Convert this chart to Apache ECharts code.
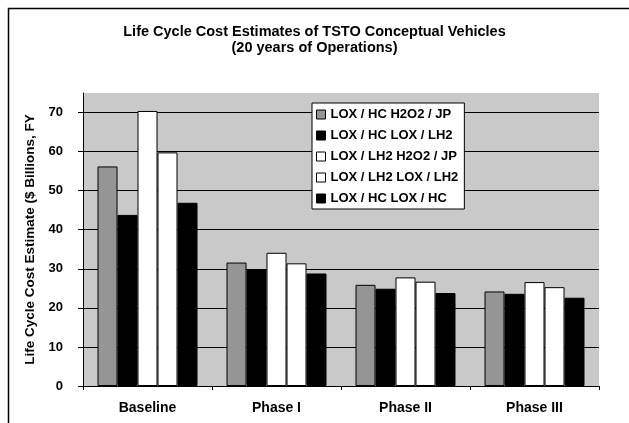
<!DOCTYPE html>
<html>
<head>
<meta charset="utf-8">
<script src="https://cdn.jsdelivr.net/npm/echarts@6/dist/echarts.min.js"></script>
<style>
html,body{margin:0;padding:0;background:#fff;}
#chart{width:629px;height:423px;}
</style>
</head>
<body>
<div id="chart"></div>
<script>
const categories = ['Baseline', 'Phase I', 'Phase II', 'Phase III'];
const seriesNames = ['LOX / HC H2O2 / JP', 'LOX / HC LOX / LH2', 'LOX / LH2 H2O2 / JP', 'LOX / LH2 LOX / LH2', 'LOX / HC LOX / HC'];
const s1 = [56.2, 31.6, 25.9, 24.2];
const s2 = [43.8, 29.7, 24.9, 23.6];
const s3 = [70.4, 34.1, 27.8, 26.6];
const s4 = [59.8, 31.4, 26.7, 25.3];
const s5 = [46.9, 28.8, 23.8, 22.6];
const yTicks = [0, 10, 20, 30, 40, 50, 60, 70];

const seriesData = [s1, s2, s3, s4, s5];
const fills = ['#959595', '#000000', '#ffffff', '#ffffff', '#000000'];
const font = '"Liberation Sans", Arial, sans-serif';

const chart = echarts.init(document.getElementById('chart'), null, {renderer: 'canvas'});
chart.setOption({
  animation: false,
  backgroundColor: '#ffffff',
  title: {
    text: 'Life Cycle Cost Estimates of TSTO Conceptual Vehicles\n(20 years of Operations)',
    left: 'center',
    top: 19,
    textStyle: {fontFamily: font, fontWeight: 'bold', fontSize: 14.5, color: '#000', lineHeight: 16}
  },
  graphic: [{
    type: 'rect', left: 6, top: 6, z: -1,
    shape: {width: 700, height: 500},
    style: {fill: 'none', stroke: '#000', lineWidth: 1.5}
  }],
  legend: {
    orient: 'vertical',
    left: 312, top: 103,
    width: 159,
    padding: [5, 6, 4, 4],
    itemGap: 8,
    itemWidth: 9, itemHeight: 9,
    backgroundColor: '#ffffff',
    borderColor: '#000', borderWidth: 1,
    textStyle: {fontFamily: font, fontWeight: 'bold', fontSize: 13, color: '#000'},
    data: seriesNames.map((n, i) => ({name: n, icon: 'rect', itemStyle: {color: fills[i], borderColor: '#000', borderWidth: 1}}))
  },
  grid: {left: 83, right: 30, top: 93, bottom: 37, show: true, backgroundColor: '#c9c9c9', borderWidth: 0},
  xAxis: {
    type: 'category',
    data: categories,
    axisLine: {lineStyle: {color: '#000', width: 1}},
    axisTick: {show: true, length: 4, lineStyle: {color: '#000'}},
    axisLabel: {fontFamily: font, fontWeight: 'bold', fontSize: 14, color: '#000', margin: 15}
  },
  yAxis: {
    type: 'value',
    min: 0, max: 75, interval: 10,
    name: 'Life Cycle Cost Estimate ($ Billions, FY',
    nameLocation: 'middle',
    nameRotate: 90,
    nameGap: 43,
    nameTextStyle: {fontFamily: font, fontWeight: 'bold', fontSize: 13.5, color: '#000'},
    axisLine: {show: true, lineStyle: {color: '#000', width: 1}},
    axisTick: {show: true, length: 5, lineStyle: {color: '#000'}, customValues: yTicks},
    axisLabel: {fontFamily: font, fontWeight: 'bold', fontSize: 13, color: '#000', margin: 20, customValues: yTicks},
    splitLine: {show: true, lineStyle: {color: ['#000','#000','#000','#000','#000','#000','#000','#000','rgba(0,0,0,0)'], width: 1}}
  },
  series: seriesData.map((d, i) => ({
    name: seriesNames[i],
    type: 'bar',
    data: d,
    barWidth: 20,
    barGap: '0%',
    itemStyle: {color: fills[i], borderColor: '#000', borderWidth: 1}
  }))
});
</script>
</body>
</html>
